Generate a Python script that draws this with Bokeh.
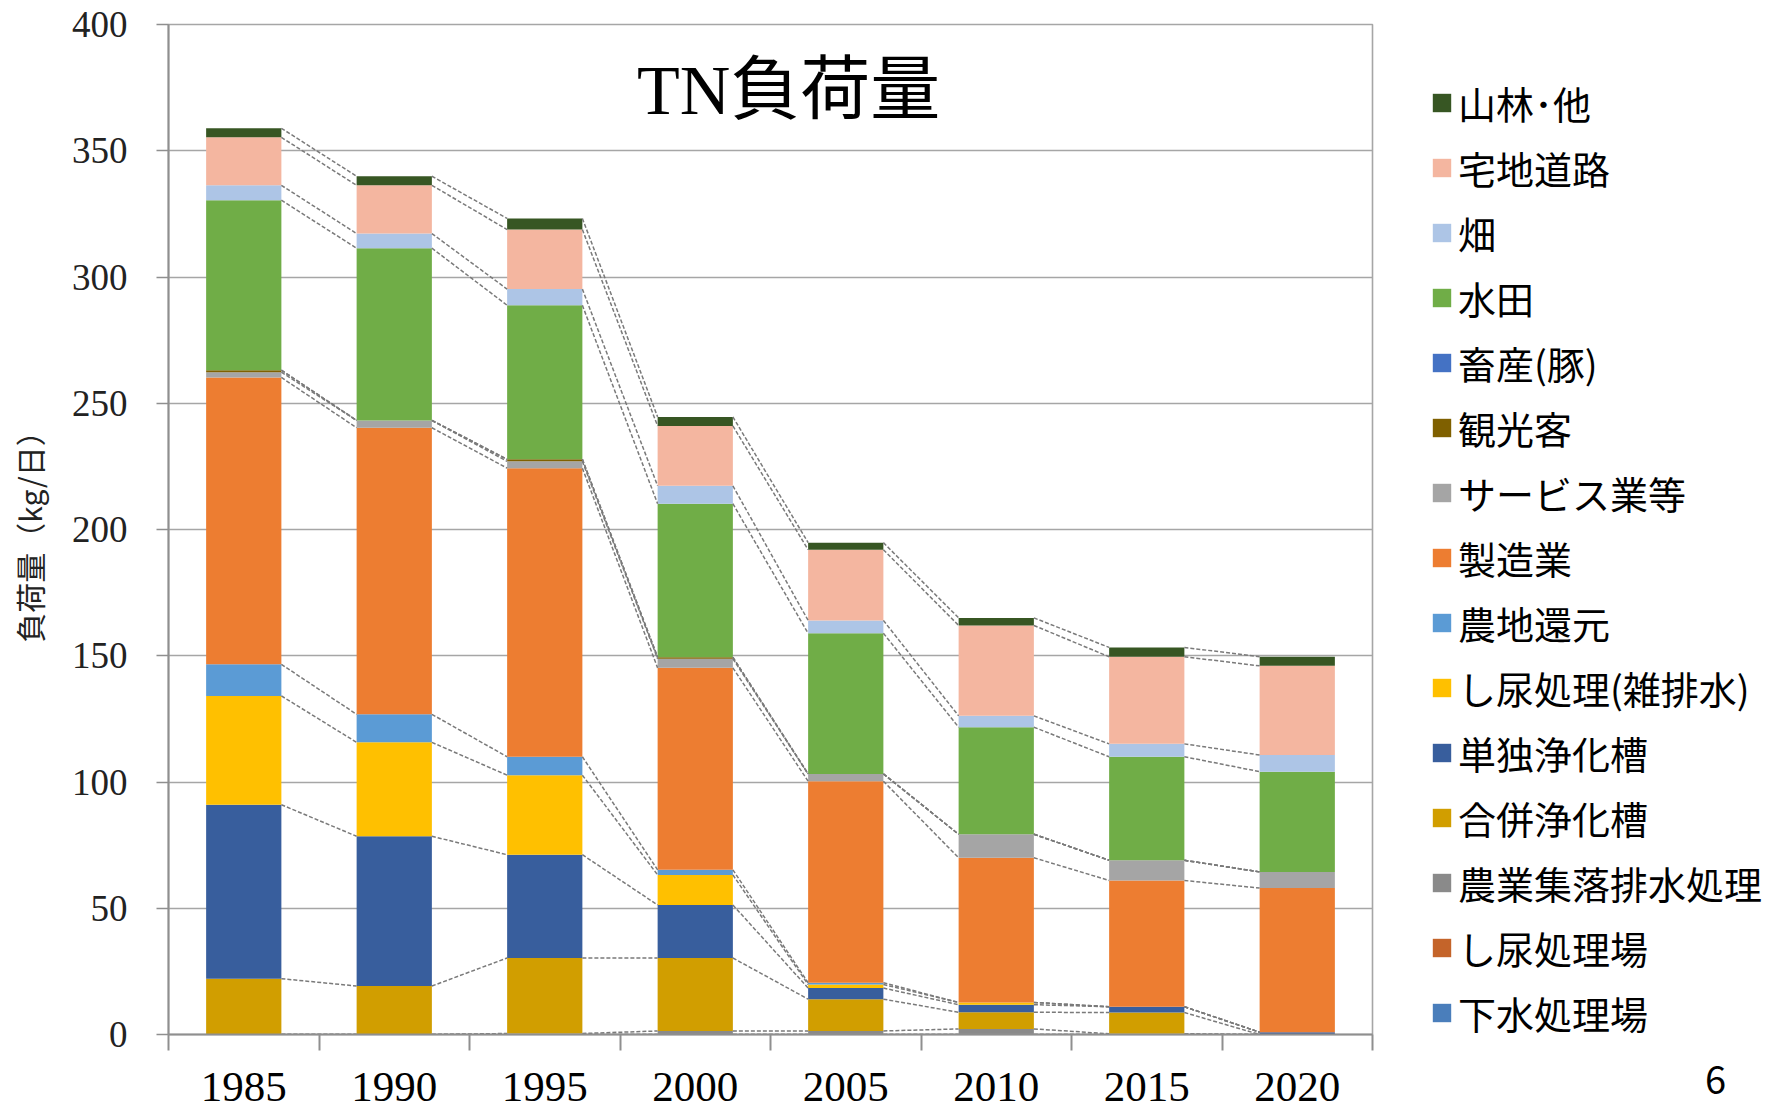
from bokeh.plotting import figure
from bokeh.models import Range1d, FixedTicker, Legend, LegendItem, Label, ColumnDataSource
from bokeh.embed import file_html
from bokeh.resources import INLINE

# ---------------- data ----------------
years = ["1985", "1990", "1995", "2000", "2005", "2010", "2015", "2020"]

# stack order: bottom -> top
series_names = ["下水処理場", "し尿処理場", "農業集落排水処理", "合併浄化槽", "単独浄化槽",
                "し尿処理(雑排水)", "農地還元", "製造業", "サービス業等", "観光客",
                "畜産(豚)", "水田", "畑", "宅地道路", "山林･他"]

gesui      = [0, 0, 0, 0, 0, 0, 0, 0]
shinyo_jo  = [0, 0, 0, 0, 0, 0, 0, 0]
nogyo_shu  = [0, 0, 0.4, 1.4, 1.4, 2.2, 0.3, 0]
gappei     = [22.1, 19.2, 29.9, 28.9, 12.6, 6.6, 8.4, 0]
tandoku    = [68.9, 59.3, 40.9, 21.0, 4.4, 3.0, 2.3, 0.9]
zappai     = [43.1, 37.2, 31.5, 11.9, 1.4, 0.9, 0, 0]
nochi      = [12.5, 11.1, 7.3, 2.0, 0.7, 0, 0, 0]
seizo      = [113.6, 113.5, 114.3, 80.0, 79.8, 57.3, 50.0, 57.1]
service    = [2.1, 2.9, 2.7, 3.6, 2.9, 9.3, 8.0, 6.4]
kanko      = [0.8, 0, 0.8, 0.6, 0, 0, 0, 0]
chikusan   = [0, 0, 0, 0, 0, 0, 0, 0]
suiden     = [67.3, 68.2, 61.0, 60.8, 55.7, 42.4, 41.0, 39.7]
hatake     = [5.9, 5.8, 6.4, 7.1, 5.1, 4.5, 5.1, 6.6]
takuchi    = [19.0, 19.1, 23.6, 23.7, 28.0, 35.8, 34.5, 35.3]
sanrin     = [3.6, 3.6, 4.4, 3.6, 2.8, 3.0, 3.7, 3.6]

series_values = [gesui, shinyo_jo, nogyo_shu, gappei, tandoku, zappai, nochi, seizo,
                 service, kanko, chikusan, suiden, hatake, takuchi, sanrin]

colors = ["#4A7EBB", "#C4642A", "#8A8A8A", "#D19E00", "#385E9D", "#FFC000", "#5B9BD5",
          "#ED7D31", "#A5A5A5", "#7F6000", "#4472C4", "#70AD47", "#ADC5E6", "#F4B6A0",
          "#375623"]

y_ticks = [0, 50, 100, 150, 200, 250, 300, 350, 400]
title_text = "TN負荷量"
y_title = "負荷量（kg/日）"
page_no = "6"

# ---------------- figure ----------------
n = len(years)
xs = [i + 0.5 for i in range(n)]
keys = ["s%d" % k for k in range(len(series_names))]
data = {"x": xs}
for k, vals in zip(keys, series_values):
    data[k] = vals
src = ColumnDataSource(data)

p = figure(frame_width=1204, frame_height=1010,
           x_range=Range1d(0, n), y_range=Range1d(0, 400),
           output_backend="svg", toolbar_location=None,
           min_border_left=168, min_border_top=24, min_border_bottom=74,
           min_border_right=412)
p.background_fill_color = "white"
p.border_fill_color = "white"
p.outline_line_color = "#a6a6a6"
p.outline_line_width = 1.6

renderers = p.vbar_stack(keys, x="x", width=0.5, color=colors, source=src,
                         line_color=None)

# series lines (Excel style) connecting the top of each stacked segment
cum = [0.0] * n
sx0, sx1, sy0, sy1 = [], [], [], []
for vals in series_values:
    cum = [c + v for c, v in zip(cum, vals)]
    for i in range(n - 1):
        sx0.append(xs[i] + 0.25)
        sx1.append(xs[i + 1] - 0.25)
        sy0.append(cum[i])
        sy1.append(cum[i + 1])
p.segment(x0=sx0, y0=sy0, x1=sx1, y1=sy1, line_color="#7a7a7a", line_width=1.5,
          line_dash="4 2")

# axes
p.xgrid.visible = False
p.ygrid.ticker = FixedTicker(ticks=y_ticks)
p.ygrid.grid_line_color = "#a6a6a6"
p.ygrid.grid_line_width = 1.6

xa = p.xaxis[0]
xa.ticker = FixedTicker(ticks=xs, minor_ticks=list(range(n + 1)))
xa.major_label_overrides = {x: yr for x, yr in zip(xs, years)}
xa.major_tick_out = 0
xa.major_tick_in = 0
xa.minor_tick_out = 16
xa.minor_tick_in = 0
xa.major_label_standoff = 22
xa.major_label_text_font = "Liberation Serif"
xa.major_label_text_font_size = "43px"
xa.major_label_text_color = "black"
xa.axis_line_color = "#8f8f8f"
xa.axis_line_width = 2
xa.minor_tick_line_color = "#8f8f8f"
xa.minor_tick_line_width = 2

ya = p.yaxis[0]
ya.ticker = FixedTicker(ticks=y_ticks)
ya.major_tick_out = 12
ya.major_tick_in = 0
ya.minor_tick_out = 0
ya.minor_tick_in = 0
ya.major_label_standoff = 29
ya.major_label_text_font = "Liberation Serif"
ya.major_label_text_font_size = "37px"
ya.major_label_text_color = "#222222"
ya.axis_line_color = "#8f8f8f"
ya.axis_line_width = 2
ya.major_tick_line_color = "#8f8f8f"
ya.major_tick_line_width = 1.6
ya.axis_label = y_title
ya.axis_label_text_font = "Noto Sans CJK JP"
ya.axis_label_text_font_size = "30px"
ya.axis_label_text_font_style = "normal"
ya.axis_label_text_color = "#222222"
ya.axis_label_standoff = 18

# title inside plot area
p.add_layout(Label(x=4.12, y=374, text=title_text, text_align="center",
                   text_baseline="middle",
                   text_font="Liberation Serif, Noto Sans CJK JP",
                   text_font_size="70px", text_color="black"))

# legend (top series first); the slide page number rides as a glyph-less last row
items = [LegendItem(label=series_names[k], renderers=[renderers[k]])
         for k in range(len(series_names) - 1, -1, -1)]
ghost = p.scatter(x=[], y=[], size=1, fill_alpha=0, line_alpha=0)
items.append(LegendItem(label="\u3000" * 6 + "\u2002" + page_no, renderers=[ghost]))

legend = Legend(items=items, location=(58, -71))
legend.margin = 0
legend.padding = 0
legend.border_line_color = None
legend.background_fill_alpha = 0
legend.label_text_font = "Noto Sans CJK JP"
legend.label_text_font_size = "38px"
legend.label_text_color = "black"
legend.glyph_width = 23
legend.glyph_height = 23
legend.label_standoff = 5
legend.spacing = 10
legend.label_height = 40
p.add_layout(legend, "right")

open("out.html", "w").write(file_html(p, INLINE))
